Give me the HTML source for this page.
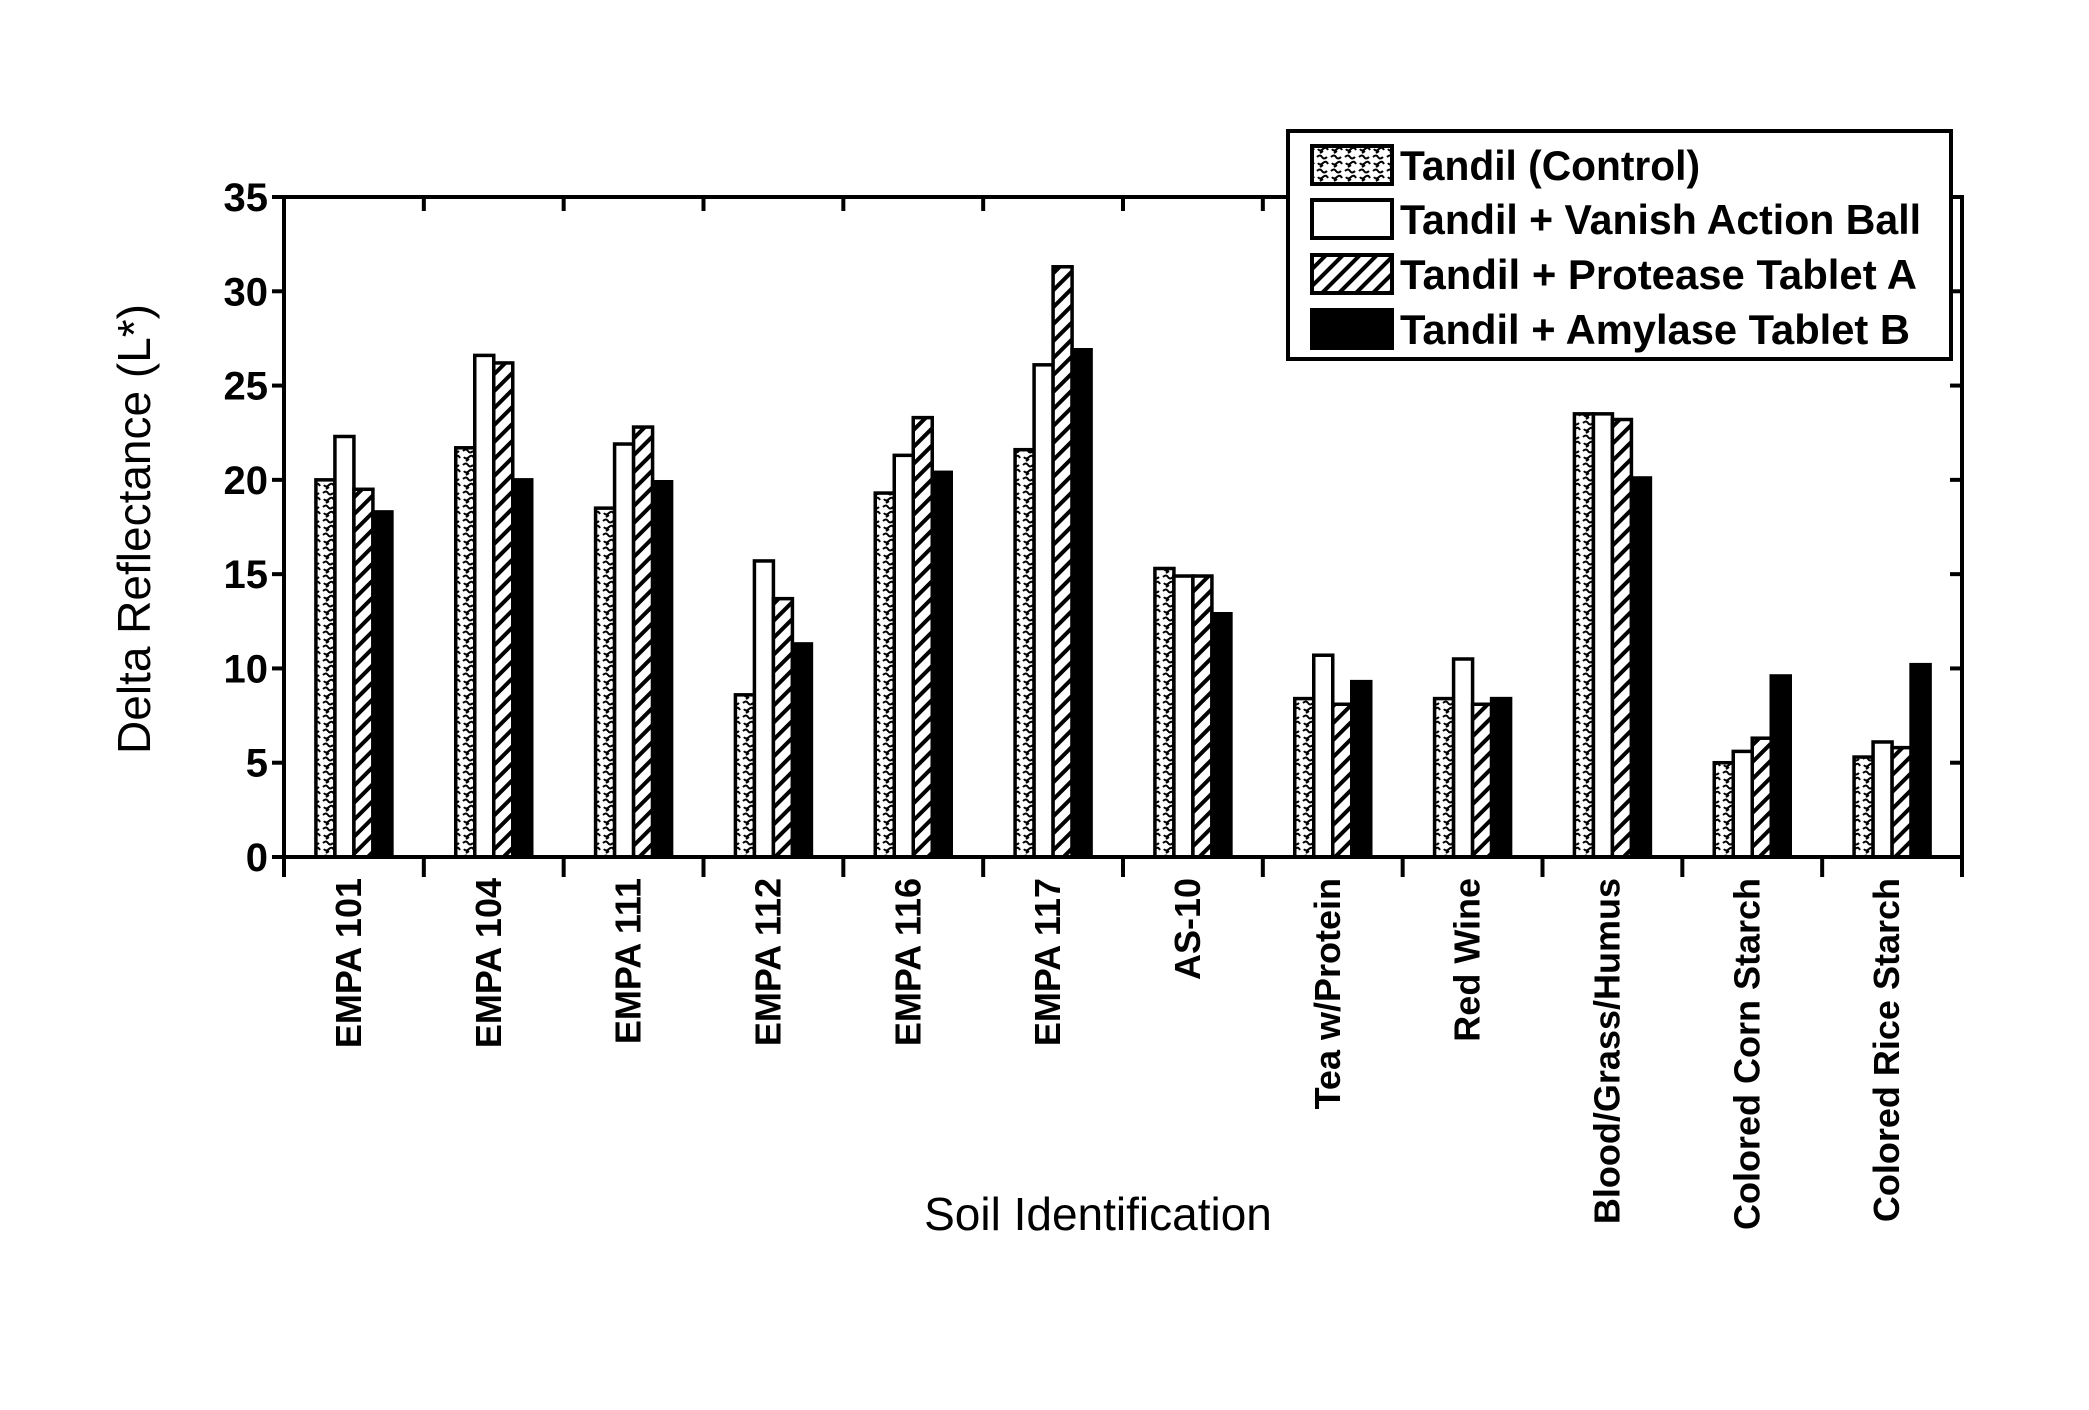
<!DOCTYPE html>
<html><head><meta charset="utf-8"><style>
html,body{margin:0;padding:0;background:#fff;}
svg{display:block;}
text{font-family:"Liberation Sans",Arial,sans-serif;fill:#000;font-weight:bold;}
text.title{font-weight:normal;}
</style></head><body>
<svg id="chart" width="2089" height="1410" viewBox="0 0 2089 1410" xmlns="http://www.w3.org/2000/svg">
<defs>
<pattern id="speckle" patternUnits="userSpaceOnUse" width="14" height="14">
<rect width="14" height="14" fill="#fff"/>
<path d="M1 3 q3 -3 5 0 t5 0 M2 9 q2 3 5 0 t5 1 M4 13 l3 -2" stroke="#000" stroke-width="2" fill="none"/>
</pattern>
<pattern id="hatch" patternUnits="userSpaceOnUse" width="12" height="12" patternTransform="rotate(45)">
<rect width="12" height="12" fill="#fff"/>
<rect x="0" y="0" width="4" height="12" fill="#000"/>
</pattern>
</defs>
<g id="bars"></g>
<g id="axes"></g>
<g id="legend"></g>
</svg>
<script>
const categories=["EMPA 101","EMPA 104","EMPA 111","EMPA 112","EMPA 116","EMPA 117","AS-10","Tea w/Protein","Red Wine","Blood/Grass/Humus","Colored Corn Starch","Colored Rice Starch"];
const control=[20,21.7,18.5,8.6,19.3,21.6,15.3,8.4,8.4,23.5,5,5.3];
const vanish=[22.3,26.6,21.9,15.7,21.3,26.1,14.9,10.7,10.5,23.5,5.6,6.1];
const protease=[19.5,26.2,22.8,13.7,23.3,31.3,14.9,8.1,8.1,23.2,6.3,5.8];
const amylase=[18.3,20,19.9,11.3,20.4,26.9,12.9,9.3,8.4,20.1,9.6,10.2];
const seriesNames=["Tandil (Control)","Tandil + Vanish Action Ball","Tandil + Protease Tablet A","Tandil + Amylase Tablet B"];
const yTicks=[0,5,10,15,20,25,30,35];

const NS="http://www.w3.org/2000/svg";
const X0=284,X1=1962,Y0=857,Y35=197,YMAX=35;
const catW=(X1-X0)/categories.length;
const barW=19;
function yScale(v){return Y0-(v/YMAX)*(Y0-Y35);}
function xCat(i){return X0+catW*(i+0.5);}
function mk(tag,attrs,parent){const e=document.createElementNS(NS,tag);for(const k in attrs)e.setAttribute(k,attrs[k]);parent.appendChild(e);return e;}
const fills=["url(#speckle)","#fff","url(#hatch)","#000"];
const series=[control,vanish,protease,amylase];
const keys=["control","vanish","protease","amylase"];
const gb=document.getElementById('bars');
series.forEach((s,si)=>{
 s.forEach((v,i)=>{
  const x=xCat(i)-2*barW+si*barW;
  const r=mk('rect',{x:x,y:yScale(v),width:barW,height:Y0-yScale(v),fill:fills[si],stroke:'#000','stroke-width':3.5},gb);
  
  
 });
});
const ga=document.getElementById('axes');
const frame=mk('rect',{x:X0,y:Y35,width:X1-X0,height:Y0-Y35,fill:'none',stroke:'#000','stroke-width':4},ga);


yTicks.forEach(t=>{
 const y=yScale(t);
 mk('line',{x1:X0-12,x2:X0,y1:y,y2:y,stroke:'#000','stroke-width':4},ga);
 mk('line',{x1:X1,x2:X1-12,y1:y,y2:y,stroke:'#000','stroke-width':4},ga);
 const tx=mk('text',{x:X0-16,y:y+14,'text-anchor':'end','font-size':40},ga);
 tx.textContent=t;
 
 
});
for(let i=0;i<=categories.length;i++){
 const x=X0+catW*i;
 mk('line',{x1:x,x2:x,y1:Y0,y2:Y0+20,stroke:'#000','stroke-width':4},ga);
 mk('line',{x1:x,x2:x,y1:Y35,y2:Y35+14,stroke:'#000','stroke-width':4},ga);
}
categories.forEach((c,i)=>{
 const x=xCat(i)-6;
 const t=mk('text',{x:0,y:0,'text-anchor':'end','font-size':36,transform:`translate(${x+13},878) rotate(-90)`},ga);
 t.textContent=c;
 
 
});
const yt=mk('text',{x:0,y:0,'text-anchor':'middle','font-size':46,'class':'title',transform:'translate(150,529) rotate(-90)'},ga);
yt.textContent='Delta Reflectance (L*)';


const xt=mk('text',{x:1098,y:1230,'text-anchor':'middle','font-size':46,'class':'title'},ga);
xt.textContent='Soil Identification';



const gl=document.getElementById('legend');
const lb=mk('rect',{x:1288,y:131,width:663,height:228,fill:'#fff',stroke:'#000','stroke-width':4},gl);


const rowY=[165,219,274,329];
const legendLen=[300,521,517,510];
seriesNames.forEach((n,si)=>{
 const sw=mk('rect',{x:1312,y:rowY[si]-19,width:80,height:38,fill:fills[si],stroke:'#000','stroke-width':4},gl);
 
 
 const t=mk('text',{x:1400,y:rowY[si]+15,'font-size':42,'textLength':legendLen[si],'lengthAdjust':'spacingAndGlyphs'},gl);
 t.textContent=n;
 
 
});
</script>
</body></html>
